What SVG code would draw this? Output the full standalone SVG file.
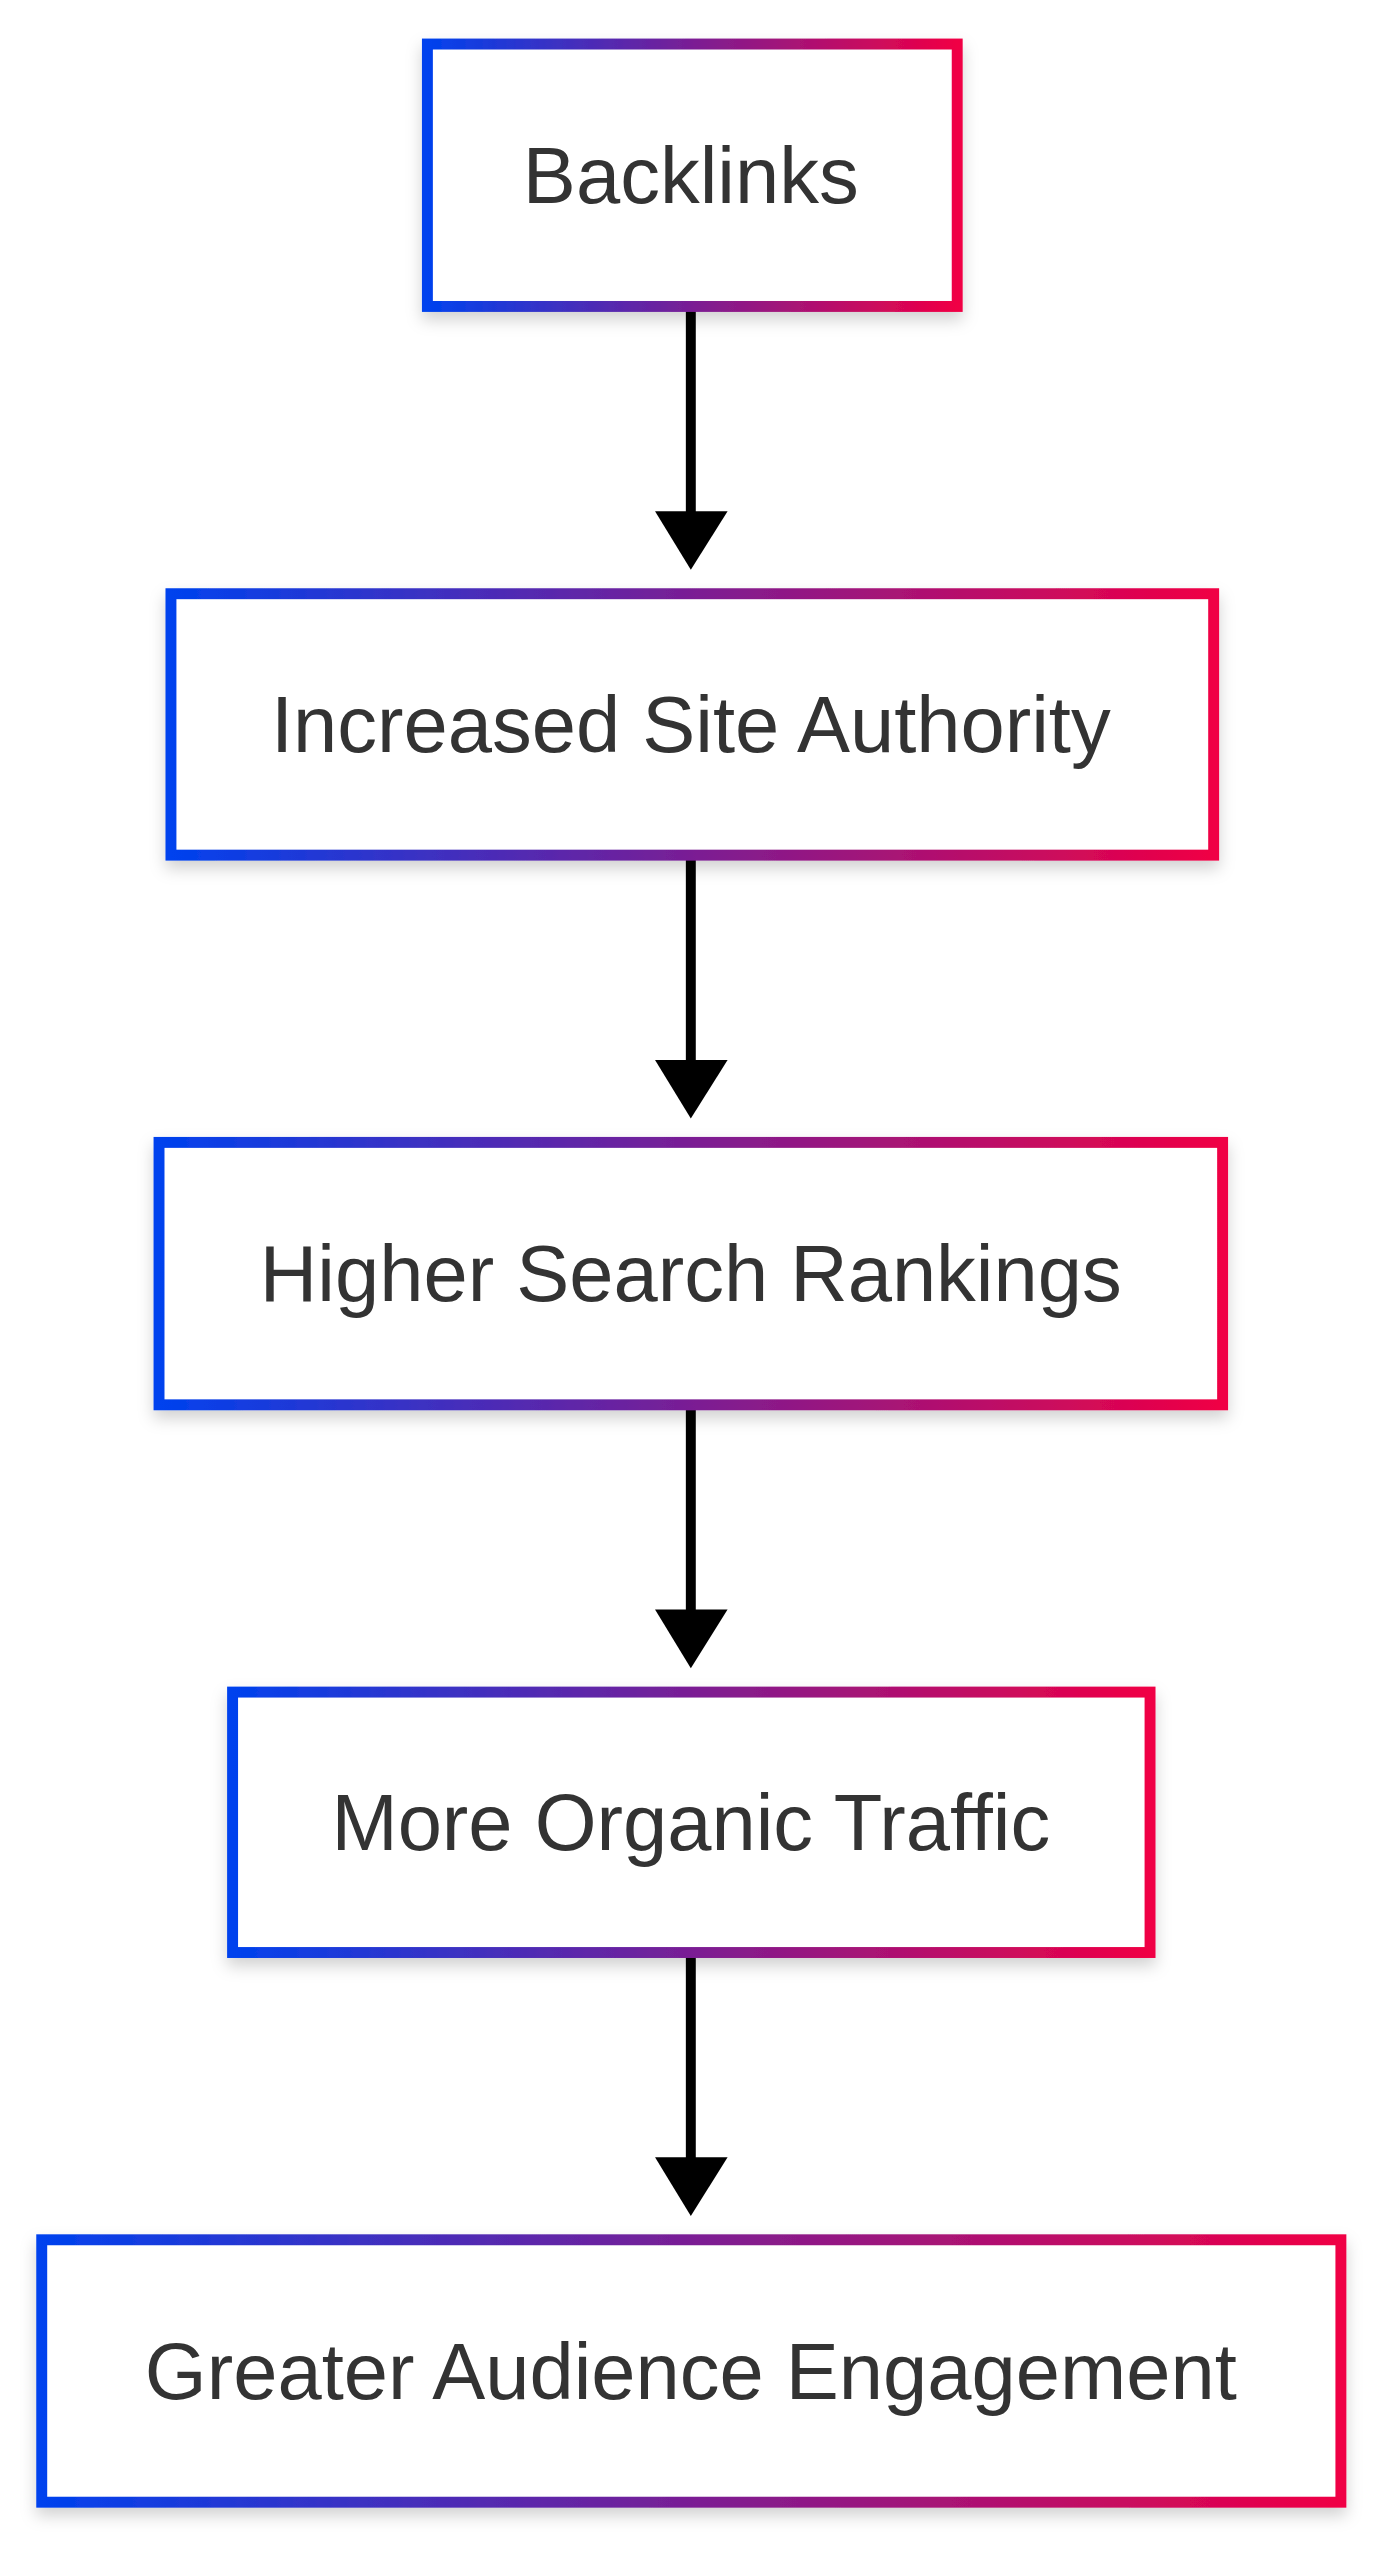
<svg xmlns="http://www.w3.org/2000/svg" width="1395" height="2560" viewBox="0 0 1395 2560">
<style>
.box{fill:#fff;stroke:url(#g);stroke-width:11;filter:url(#sh)}
.lbl{font-family:"Liberation Sans",Arial,sans-serif;font-size:80px;fill:#333;text-anchor:middle}
.edge{stroke:#000;stroke-width:10;fill:none}
</style>
<defs>
<linearGradient id="g" x1="0" y1="0" x2="1" y2="0">
<stop offset="0" stop-color="#0042ee"/>
<stop offset="0.5" stop-color="#7a1e94"/>
<stop offset="1" stop-color="#f00044"/>
</linearGradient>
<filter id="sh" x="-10%" y="-20%" width="120%" height="150%">
<feDropShadow dx="0" dy="8" stdDeviation="8" flood-color="#000" flood-opacity="0.18"/>
</filter>
</defs>
<rect width="1395" height="2560" fill="#fff"/>
<g transform="translate(-2,0.3) scale(0.994)">
<g id="connectors">
<line class="edge" x1="697" y1="308" x2="697" y2="520"/>
<polygon points="661,514 734,514 697,573"/>
<line class="edge" x1="697" y1="860" x2="697" y2="1072"/>
<polygon points="661,1066 734,1066 697,1125"/>
<line class="edge" x1="697" y1="1413" x2="697" y2="1625"/>
<polygon points="661,1619 734,1619 697,1678"/>
<line class="edge" x1="697" y1="1964" x2="697" y2="2176"/>
<polygon points="661,2170 734,2170 697,2229"/>
</g>
<g id="n1"><rect class="box" x="432" y="44" width="533" height="264"/><text class="lbl" x="697" y="204">Backlinks</text></g>
<g id="n2"><rect class="box" x="174" y="597" width="1049" height="263"/><text class="lbl" x="697" y="756">Increased Site Authority</text></g>
<g id="n3"><rect class="box" x="162" y="1149" width="1070" height="264"/><text class="lbl" x="697" y="1309">Higher Search Rankings</text></g>
<g id="n4"><rect class="box" x="236" y="1702" width="923" height="262"/><text class="lbl" x="697" y="1861">More Organic Traffic</text></g>
<g id="n5"><rect class="box" x="44" y="2253" width="1307" height="264"/><text class="lbl" x="697" y="2413">Greater Audience Engagement</text></g>
</g>
</svg>
